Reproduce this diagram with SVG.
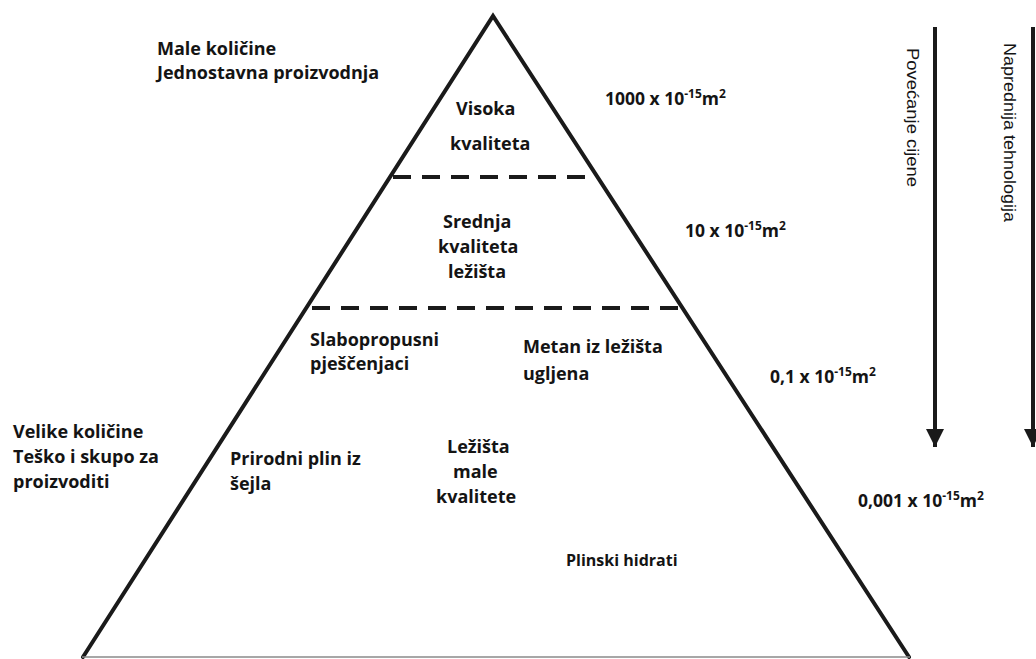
<svg xmlns="http://www.w3.org/2000/svg" width="1036" height="659" viewBox="0 0 1036 659">
<defs>
<style>
.t{font-family:"Open Sans","Noto Sans","Liberation Sans",sans-serif;font-weight:700;font-size:18px;fill:#141414}
.n{font-family:"Open Sans","Noto Sans","Liberation Sans",sans-serif;font-weight:700;font-size:17.5px;fill:#141414}
.s{font-size:12px}
.v{font-family:"Liberation Sans",Arial,sans-serif;font-size:16px;fill:#141414}
.edge{stroke:#1a1a1a;stroke-width:4;fill:none;stroke-linecap:round}
.dash{stroke:#1a1a1a;stroke-width:4;fill:none;stroke-dasharray:18 11}
.arr{stroke:#1a1a1a;stroke-width:4;fill:none}
</style>
<marker id="ah" viewBox="0 0 10 10" refX="10" refY="5" markerWidth="4.5" markerHeight="4.5" orient="auto" markerUnits="strokeWidth">
<path d="M0,0 L10,5 L0,10 Z" fill="#1a1a1a"/>
</marker>
</defs>
<rect width="1036" height="659" fill="#fff"/>
<g id="pyramid">
<path class="edge" d="M83,657 L493,16 L909,657"/>
<line x1="82" y1="657" x2="910" y2="657" stroke="#8a8a8a" stroke-width="1.5"/>
<line class="dash" x1="393" y1="177" x2="590" y2="177"/>
<line class="dash" x1="312" y1="308" x2="683" y2="308"/>
</g>
<g id="connectors">
<line class="arr" x1="935" y1="27" x2="935" y2="447" marker-end="url(#ah)"/>
<line class="arr" x1="1033" y1="27" x2="1033" y2="447" marker-end="url(#ah)"/>
</g>
<g id="label-top-left">
<text class="t" x="157" y="55">Male količine</text>
<text class="t" x="157" y="79">Jednostavna proizvodnja</text>
</g>
<g id="label-bottom-left">
<text class="t" x="13" y="438">Velike količine</text>
<text class="t" x="13" y="463">Teško i skupo za</text>
<text class="t" x="13" y="488">proizvoditi</text>
</g>
<g id="node-visoka">
<text class="t" x="456" y="115">Visoka</text>
<text class="t" x="450" y="150">kvaliteta</text>
</g>
<g id="node-srednja">
<text class="t" x="443" y="228">Srednja</text>
<text class="t" x="438" y="253">kvaliteta</text>
<text class="t" x="448" y="278">ležišta</text>
</g>
<g id="node-slabo">
<text class="t" x="310" y="346">Slabopropusni</text>
<text class="t" x="310" y="370">pješčenjaci</text>
</g>
<g id="node-metan">
<text class="t" x="523" y="353" fill="#000">Metan iz ležišta</text>
<text class="t" x="523" y="380" fill="#000">ugljena</text>
</g>
<g id="node-prirodni">
<text class="t" x="230" y="465">Prirodni plin iz</text>
<text class="t" x="230" y="490">šejla</text>
</g>
<g id="node-male">
<text class="t" x="447" y="453">Ležišta</text>
<text class="t" x="453" y="478">male</text>
<text class="t" x="436" y="503">kvalitete</text>
</g>
<g id="node-hidrati">
<text class="t" x="566" y="566" style="font-size:16px">Plinski hidrati</text>
</g>
<g id="perm-labels">
<text class="n" x="605" y="105">1000 x 10<tspan class="s" dy="-7">-15</tspan><tspan dy="7">m</tspan><tspan class="s" dy="-7">2</tspan></text>
<text class="n" x="685" y="237">10 x 10<tspan class="s" dy="-7">-15</tspan><tspan dy="7">m</tspan><tspan class="s" dy="-7">2</tspan></text>
<text class="n" x="770" y="383">0,1 x 10<tspan class="s" dy="-7">-15</tspan><tspan dy="7">m</tspan><tspan class="s" dy="-7">2</tspan></text>
<text class="n" x="858" y="507">0,001 x 10<tspan class="s" dy="-7">-15</tspan><tspan dy="7">m</tspan><tspan class="s" dy="-7">2</tspan></text>
</g>
<g id="arrow-labels">
<text class="v" transform="translate(907,48) rotate(90)" textLength="139" lengthAdjust="spacingAndGlyphs">Povećanje cijene</text>
<text class="v" transform="translate(1004,43) rotate(90)" textLength="179" lengthAdjust="spacingAndGlyphs">Naprednija tehnologija</text>
</g>
</svg>
